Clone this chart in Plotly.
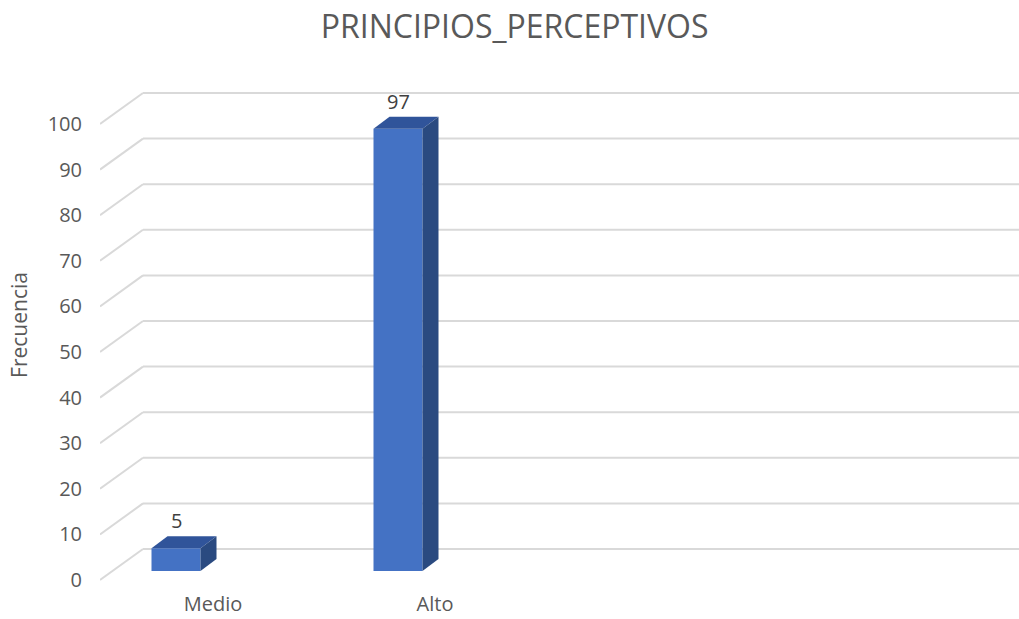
import plotly.graph_objects as go

# Data
categories = ["Medio", "Alto"]
frecuencia = [5, 97]
y_ticks = [0, 10, 20, 30, 40, 50, 60, 70, 80, 90, 100]
title_text = "PRINCIPIOS_PERCEPTIVOS"
y_title = "Frecuencia"

# Figure geometry (pixels)
W, H = 1019, 619
M_L, M_R, M_T, M_B = 100, 0, 60, 29
PX_PER_CAT = 222.0
PX_PER_UNIT = 4.56
ZERO_PX = 580  # pixel row of value 0 on the front floor edge

# Axis ranges so that value 0 sits at the front floor edge
plot_h = H - M_T - M_B
y_max = (ZERO_PX - M_T) / PX_PER_UNIT
y_min = y_max - plot_h / PX_PER_UNIT
x_min = -113 / PX_PER_CAT
x_max = x_min + (W - M_L - M_R) / PX_PER_CAT

# 3D depth offsets expressed in axis units
wall_dx, wall_dy = 43 / PX_PER_CAT, 31 / PX_PER_UNIT
bar_dx, bar_dy = 16 / PX_PER_CAT, 12 / PX_PER_UNIT
bar_base = 9 / PX_PER_UNIT
bar_shift = -37 / PX_PER_CAT
bar_w = 49 / PX_PER_CAT

FRONT = "#4472C4"
TOP = "#30549A"
SIDE = "#2A4A80"
GRID = "#D9D9D9"
TEXT = "#595959"
FONT = "Open Sans"

shapes = []
# Back wall gridlines with their diagonal floor edge
for t in y_ticks:
    shapes.append(dict(type="line", xref="x", yref="y", layer="below",
                       x0=x_min + wall_dx, x1=x_max, y0=t + wall_dy, y1=t + wall_dy,
                       line=dict(color=GRID, width=2)))
    shapes.append(dict(type="line", xref="x", yref="y", layer="below",
                       x0=x_min, x1=x_min + wall_dx, y0=t, y1=t + wall_dy,
                       line=dict(color=GRID, width=2)))

xs = [i + bar_shift for i in range(len(categories))]
annotations = []
for xc, v in zip(xs, frecuencia):
    xl, xr = xc - bar_w / 2, xc + bar_w / 2
    top = bar_base + v
    # top face
    shapes.append(dict(type="path", xref="x", yref="y", layer="above",
                       path=f"M {xl},{top} L {xr},{top} L {xr + bar_dx},{top + bar_dy} "
                            f"L {xl + bar_dx},{top + bar_dy} Z",
                       fillcolor=TOP, line=dict(width=0)))
    # side face
    shapes.append(dict(type="path", xref="x", yref="y", layer="above",
                       path=f"M {xr},{bar_base} L {xr},{top} L {xr + bar_dx},{top + bar_dy} "
                            f"L {xr + bar_dx},{bar_base + bar_dy} Z",
                       fillcolor=SIDE, line=dict(width=0)))
    annotations.append(dict(x=xc, y=top + bar_dy, xref="x", yref="y",
                            text=str(v), showarrow=False, yanchor="bottom",
                            yshift=0, font=dict(family=FONT, size=20, color="#404040")))

fig = go.Figure(go.Bar(
    x=xs, y=frecuencia, base=bar_base, width=bar_w,
    marker=dict(color=FRONT, line=dict(width=0)),
    hoverinfo="skip",
))

fig.update_layout(
    template="none",
    width=W, height=H,
    margin=dict(l=M_L, r=M_R, t=M_T, b=M_B),
    paper_bgcolor="white", plot_bgcolor="white",
    showlegend=False,
    title=dict(text=title_text, x=0.505, xanchor="center", y=1 - 27 / H, yanchor="middle",
               font=dict(family=FONT, size=32, color=TEXT)),
    shapes=shapes,
    annotations=annotations,
    xaxis=dict(range=[x_min, x_max], tickvals=list(range(len(categories))),
               ticktext=categories, showgrid=False, zeroline=False, showline=False,
               ticks="", automargin=False, fixedrange=True,
               tickfont=dict(family=FONT, size=20, color=TEXT)),
    yaxis=dict(range=[y_min, y_max], tickvals=y_ticks, showgrid=False, zeroline=False,
               showline=False, ticks="", automargin=False, fixedrange=True,
               ticklabelstandoff=17,
               tickfont=dict(family=FONT, size=20, color=TEXT),
               title=dict(text=y_title, standoff=14,
                          font=dict(family=FONT, size=21, color=TEXT))),
)

fig.write_html("out.html")
